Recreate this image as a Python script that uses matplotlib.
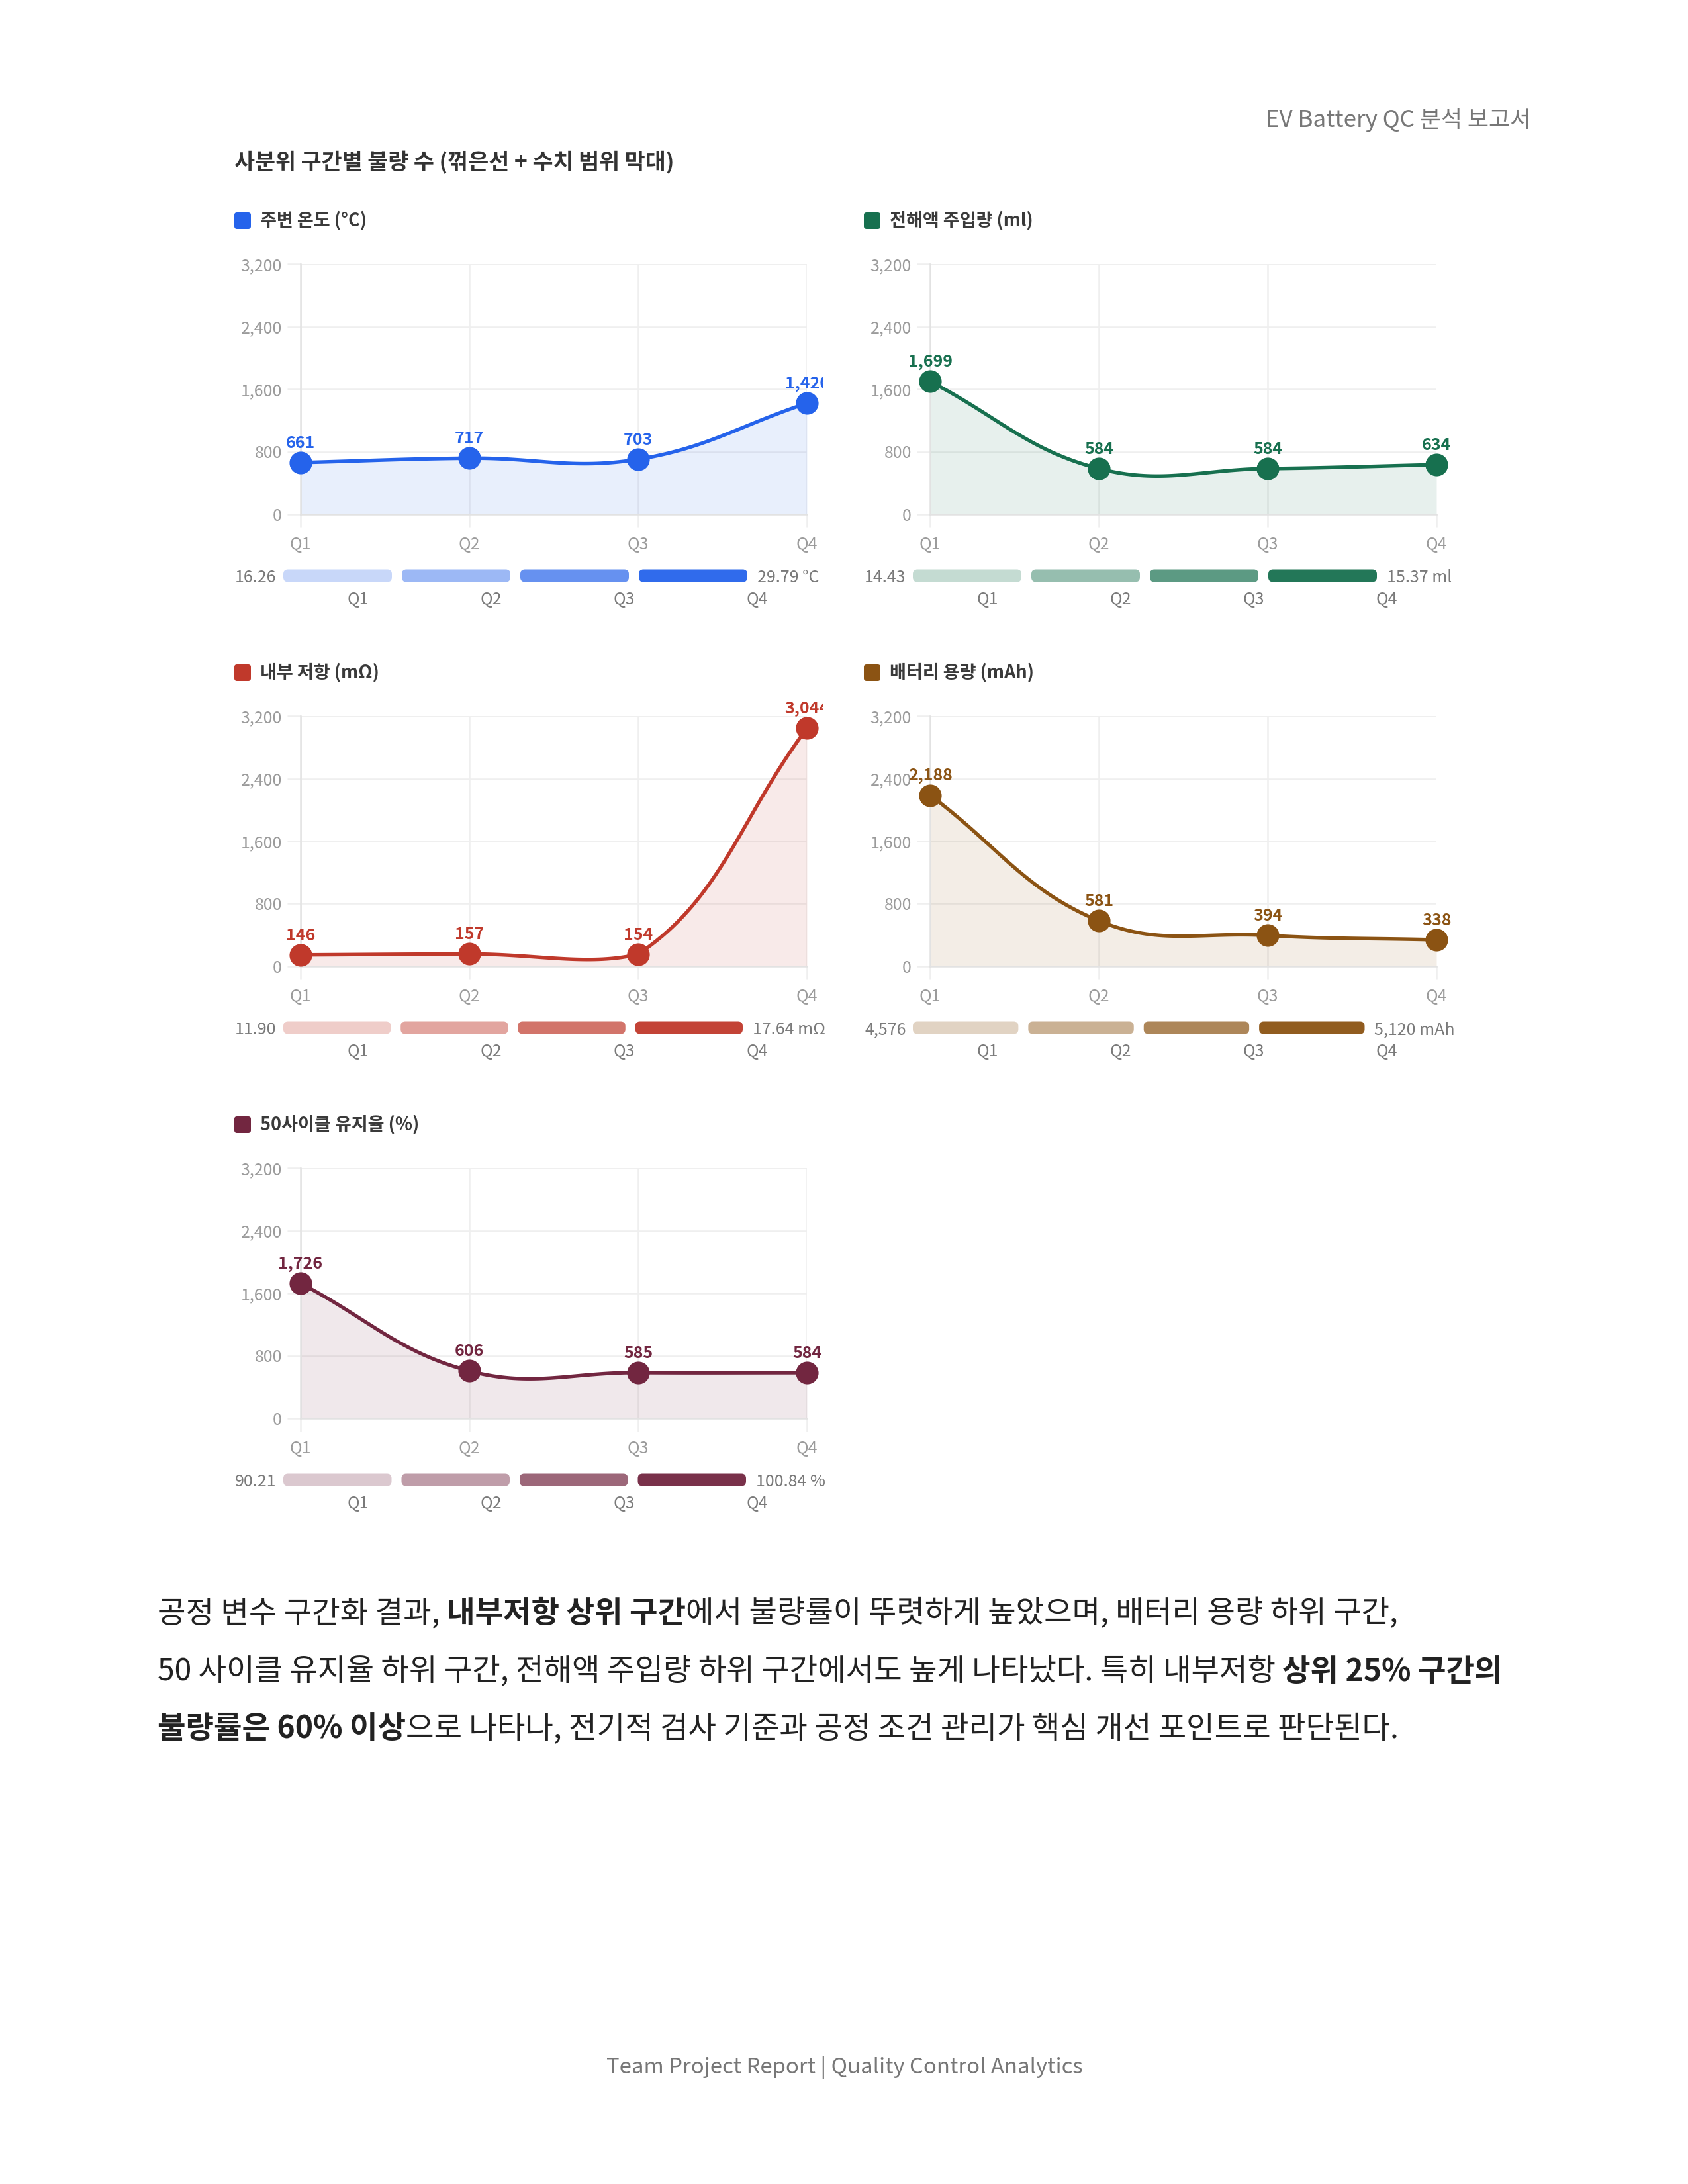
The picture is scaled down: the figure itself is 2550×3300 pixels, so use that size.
import numpy as np
import matplotlib
matplotlib.use("Agg")
import matplotlib.pyplot as plt
from matplotlib.patches import FancyBboxPatch
from matplotlib.transforms import Bbox, TransformedBbox

plt.rcParams['font.family'] = ['Noto Sans CJK KR', 'DejaVu Sans']

W, H = 2550, 3300

quarters = ["Q1", "Q2", "Q3", "Q4"]
y_ticks = [0, 800, 1600, 2400, 3200]

temp_defects = [661, 717, 703, 1420]
electrolyte_defects = [1699, 584, 584, 634]
resistance_defects = [146, 157, 154, 3044]
capacity_defects = [2188, 581, 394, 338]
retention_defects = [1726, 606, 585, 584]

names = ["주변 온도 (°C)", "전해액 주입량 (ml)", "내부 저항 (mΩ)",
         "배터리 용량 (mAh)", "50사이클 유지율 (%)"]
range_low = ["16.26", "14.43", "11.90", "4,576", "90.21"]
range_high = ["29.79 °C", "15.37 ml", "17.64 mΩ", "5,120 mAh", "100.84 %"]
colors = ["#2563eb", "#17704f", "#c0392b", "#8b5313", "#722640"]
shade_alpha = [0.25, 0.45, 0.7, 0.95]

all_defects = [temp_defects, electrolyte_defects, resistance_defects,
               capacity_defects, retention_defects]


def fx(x):
    return x / W


def fy(y):
    return 1 - y / H


def spline(ax, xs, ys, tension=0.4, n=40):
    # chart.js style bezier in pixel space, control points kept inside the plot area
    pts = ax.transData.transform(np.column_stack([xs, ys]).astype(float))
    bb = ax.bbox
    m = len(pts)
    prev_c, next_c = [], []
    for i in range(m):
        p0 = pts[i - 1] if i > 0 else pts[i]
        p1 = pts[i]
        p2 = pts[i + 1] if i < m - 1 else pts[i]
        d01 = np.hypot(*(p1 - p0))
        d12 = np.hypot(*(p2 - p1))
        tot = d01 + d12
        s01 = d01 / tot if tot else 0
        s12 = d12 / tot if tot else 0
        pc = p1 - tension * s01 * (p2 - p0)
        nc = p1 + tension * s12 * (p2 - p0)
        for cp in (pc, nc):
            cp[0] = min(max(cp[0], bb.x0), bb.x1)
            cp[1] = min(max(cp[1], bb.y0), bb.y1)
        prev_c.append(pc)
        next_c.append(nc)
    t = np.linspace(0, 1, n)[:, None]
    segs = []
    for i in range(m - 1):
        a, b, c, d = pts[i], next_c[i], prev_c[i + 1], pts[i + 1]
        seg = (1 - t) ** 3 * a + 3 * (1 - t) ** 2 * t * b + 3 * (1 - t) * t ** 2 * c + t ** 3 * d
        segs.append(seg if i == 0 else seg[1:])
    curve = ax.transData.inverted().transform(np.vstack(segs))
    return curve[:, 0], curve[:, 1]


fig = plt.figure(figsize=(W / 300, H / 300), dpi=300)
fig.patch.set_facecolor("white")
renderer = fig.canvas.get_renderer()

fig.text(fx(2313), fy(181), "EV Battery QC 분석 보고서", ha="right", va="center",
         fontsize=8.4, color="#777777")
fig.text(fx(354), fy(246), "사분위 구간별 불량 수 (꺾은선 + 수치 범위 막대)", ha="left",
         va="center", fontsize=8.1, fontweight="bold", color="#333333")

for k in range(5):
    vals = all_defects[k]
    col = colors[k]
    r, c = divmod(k, 2)
    dx = 951 * c
    dy = 683 * r
    clip = TransformedBbox(Bbox.from_extents(0, 0, fx(1244 + dx), 1), fig.transFigure)
    clip_range = TransformedBbox(Bbox.from_extents(0, 0, fx(1252 + dx), 1), fig.transFigure)

    # legend square + name
    fig.add_artist(FancyBboxPatch((fx(354 + dx), fy(346 + dy)), 25 / W, 25 / H,
                                  boxstyle="round,pad=0,rounding_size=%f" % (4 / W),
                                  mutation_aspect=W / H, transform=fig.transFigure,
                                  fc=col, ec="none"))
    fig.text(fx(393 + dx), fy(333 + dy), names[k], ha="left", va="center",
             fontsize=6.5, fontweight="bold", color="#3a3a3a")

    ax = fig.add_axes([fx(454 + dx), fy(777 + dy), 765 / W, 378 / H])
    ax.set_xlim(0, 3)
    ax.set_ylim(0, 3200)
    ax.set_xticks(range(4), quarters)
    ax.set_yticks(y_ticks, [f"{t:,}" for t in y_ticks])
    ax.grid(True, color="#efefef", lw=0.6)
    ax.set_axisbelow(True)
    ax.tick_params(length=4.8, width=0.6, color="#efefef", labelsize=6,
                   labelcolor="#9b9b9b")
    ax.tick_params(axis="y", pad=1.9)
    ax.tick_params(axis="x", pad=3.2)
    for s in ["top", "right"]:
        ax.spines[s].set_visible(False)
    for s in ["left", "bottom"]:
        ax.spines[s].set_color("#e2e2e2")
        ax.spines[s].set_linewidth(0.6)

    cx, cy = spline(ax, range(4), vals)
    ax.fill_between(cx, 0, cy, color=col, alpha=0.1, lw=0)
    ax.plot(cx, cy, color=col, lw=1.3, clip_on=False, solid_capstyle="round", zorder=3)
    ax.plot(range(4), vals, "o", ms=7.2, color=col, clip_on=False, zorder=4)
    for i, v in enumerate(vals):
        a = ax.annotate(f"{v:,}", (i, v), xytext=(0, 7), textcoords="offset points",
                        ha="center", va="center", fontsize=6, fontweight="bold",
                        color=col, annotation_clip=False, zorder=5)
        a.set_clip_on(True)
        a.set_clip_box(clip)

    # range labels, then the four bars fill the space between them
    fig.text(fx(355 + dx), fy(873 + dy), range_low[k], ha="left", va="center",
             fontsize=6, color="#7a7a7a")
    t2 = fig.text(0, fy(873 + dy), range_high[k], ha="left", va="center",
                  fontsize=6, color="#7a7a7a")
    t2.set_clip_on(True)
    t2.set_clip_box(clip_range)
    wr = t2.get_window_extent(renderer).width
    bar_start = 428 + dx
    bar_end = min(1129 + dx, 1247 + dx - wr - 15)
    t2.set_x(fx(bar_end + 15))
    gap = 15
    bw = (bar_end - bar_start - 3 * gap) / 4
    pitch = bw + gap
    c0 = bar_start + bw / 2
    bx = fig.add_axes([fx(400 + dx), fy(889 + dy), 820 / W, 38 / H])
    bx.set_xlim((400 + dx - c0) / pitch, (1220 + dx - c0) / pitch)
    bx.set_ylim(0, 1)
    bx.axis("off")
    for i in range(4):
        bx.add_patch(FancyBboxPatch((i - bw / pitch / 2, 0.25), bw / pitch, 0.5,
                                    boxstyle="round,pad=0,rounding_size=%f" % (7 / pitch),
                                    mutation_aspect=pitch / 38, fc=col,
                                    alpha=shade_alpha[i], ec="none"))
    for i, q in enumerate(quarters):
        fig.text(fx(540.7 + 201 * i + dx), fy(906 + dy), q, ha="center", va="center",
                 fontsize=6, color="#7a7a7a")

# closing paragraph with bold runs
lines = [
    [("공정 변수 구간화 결과, ", False), ("내부저항 상위 구간", True),
     ("에서 불량률이 뚜렷하게 높았으며, 배터리 용량 하위 구간,", False)],
    [("50 사이클 유지율 하위 구간, 전해액 주입량 하위 구간에서도 높게 나타났다. 특히 내부저항 ", False),
     ("상위 25% 구간의", True)],
    [("불량률은 60% 이상", True),
     ("으로 나타나, 전기적 검사 기준과 공정 조건 관리가 핵심 개선 포인트로 판단된다.", False)],
]
line_y = [2438, 2526, 2612]
para_size = 11.1


def text_width(s, bold):
    t = fig.text(0, 0, s, fontsize=para_size, fontweight="bold" if bold else "normal")
    w = t.get_window_extent(renderer).width
    t.remove()
    return w


space_w = text_width("가 가", False) - text_width("가가", False)

for parts, y in zip(lines, line_y):
    x = 238
    for txt, bold in parts:
        if txt.startswith(" "):
            x += space_w
        t = fig.text(fx(x), fy(y), txt.strip(), ha="left", va="center",
                     fontsize=para_size, fontweight="bold" if bold else "normal",
                     color="#222222")
        x = t.get_window_extent(renderer).x1
        if txt.endswith(" "):
            x += space_w

fig.text(fx(1276), fy(3124), "Team Project Report | Quality Control Analytics",
         ha="center", va="center", fontsize=7.9, color="#777777")

fig.savefig("out.png", dpi=300, facecolor="white")
